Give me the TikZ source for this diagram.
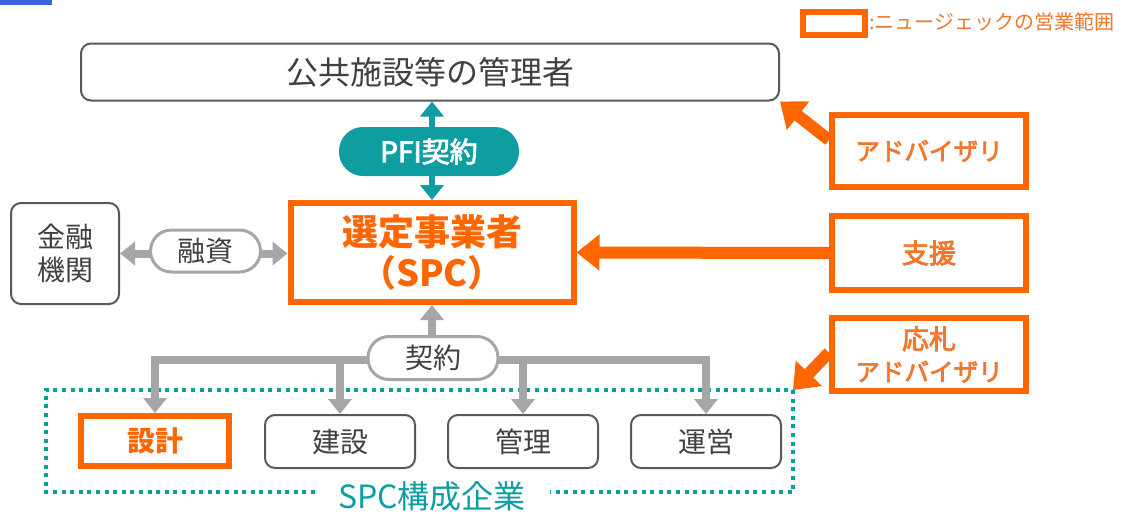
\documentclass[tikz,border=0pt]{standalone}
\usepackage{fontspec}
\setmainfont{Noto Sans CJK JP}
\newfontfamily\medfont{Noto Sans CJK JP}[FakeBold=3]
\usetikzlibrary{arrows.meta}
\definecolor{org}{HTML}{FF6600}
\definecolor{orgl}{HTML}{F0772B}
\definecolor{tealc}{HTML}{0E9DA0}
\definecolor{gborder}{HTML}{595959}
\definecolor{garrow}{HTML}{A6A6A6}
\definecolor{gtext}{HTML}{404040}
\definecolor{bluebar}{HTML}{3B64DC}
\begin{document}
\begin{tikzpicture}[x=0.5pt,y=-0.5pt,
  graybox/.style={draw=gborder, line width=1pt, rounded corners=5pt, fill=white, inner sep=0pt, text=gtext},
  orbox/.style={draw=org, line width=3pt, fill=white, inner sep=0pt, align=center},
  rbox/.style={orbox, minimum width=97pt, text=orgl, font=\medfont\fontsize{13.5}{16}\selectfont},
  pillg/.style={draw=garrow, line width=1.5pt, fill=white, rounded corners=10.5pt, inner sep=0pt, text=gtext, font=\fontsize{14}{16}\selectfont},
  garr/.style={draw=garrow, line width=4pt, -{Triangle[length=7.5pt,width=11.5pt]}},
  oarr/.style={draw=org, line width=6pt, -{Triangle[length=11.5pt,width=17.5pt]}},
  tarr/.style={draw=tealc, line width=3pt, {Triangle[length=7.5pt,width=11.5pt]}-{Triangle[length=7.5pt,width=11.5pt]}}
]
\useasboundingbox (0,0) rectangle (1125,514);
\fill[bluebar] (0,0) rectangle (52,5);
% legend
\node[draw=org, line width=3pt, minimum width=31pt, minimum height=11.5pt, inner sep=0pt] (leg) at (834,23.5) {};
\node[anchor=west, inner sep=0pt, text=orgl, font=\fontsize{10}{11}\selectfont] (legt) at (869,22) {:ニュージェックの営業範囲};
% main boxes
\node[graybox, minimum width=349pt, minimum height=28.5pt, font=\fontsize{16}{18}\selectfont] (top) at (430,72) {公共施設等の管理者};
\node[orbox, minimum width=141.5pt, minimum height=49.5pt, text=org, font=\fontsize{18}{21.5}\selectfont\bfseries] (spc) at (432,252.5) {\raisebox{-1pt}{選定事業者}\\（SPC）};
\node[graybox, align=center, minimum width=54pt, minimum height=50.5pt, font=\fontsize{14}{16.5}\selectfont] (kin) at (65,253.5) {金融\\機関};
% right boxes
\node[rbox, minimum height=36pt, font=\medfont\fontsize{12.3}{16}\selectfont] (adv) at (929,151) {アドバイザリ};
\node[rbox, minimum height=37pt] (shien) at (929,253) {支援};
\node[rbox, minimum height=36.5pt] (ous) at (929,354.5) {応札\\{\fontsize{12.3}{16}\selectfont アドバイザリ}};
% bottom boxes
\node[orbox, minimum width=74pt, minimum height=25pt, text=org, font=\fontsize{14}{16}\selectfont\bfseries] (sekkei) at (155,441) {\raisebox{-1pt}{設計}};
\node[graybox, minimum width=75pt, minimum height=26.5pt, font=\fontsize{14}{16}\selectfont] (kensetsu) at (340,441.5) {建設};
\node[graybox, minimum width=75pt, minimum height=26.5pt, font=\fontsize{14}{16}\selectfont] (kanri) at (523,441.5) {管理};
\node[graybox, minimum width=75pt, minimum height=26.5pt, font=\fontsize{14}{16}\selectfont] (unei) at (706,441.5) {運営};
% dotted group
\coordinate (gtl) at (46,390);
\coordinate (gbr) at (793,492);
\coordinate (dr) at (793,390);
\node[inner sep=0pt, text=tealc, font=\fontsize{16}{18}\selectfont] (grp) at (432,496) {SPC構成企業};
\draw[tealc, line width=2pt, dash pattern=on 2pt off 2.3pt] (315,492) -- (gtl |- gbr) -- (gtl) -- (dr) -- (gbr) -- (550,492);
% teal PFI
\draw[tarr] (spc.north |- top.south) -- (spc.north);
\node[fill=tealc, rounded corners=12pt, minimum width=90pt, minimum height=24.5pt, inner sep=0pt, text=white, font=\medfont\fontsize{14}{16}\selectfont] (pfi) at (429,151.5) {PFI契約};
% financing
\draw[draw=garrow, line width=4pt, {Triangle[length=7.5pt,width=11.5pt]}-{Triangle[length=7.5pt,width=11.5pt]}] (kin.east) -- (spc.west |- kin.east);
\node[pillg, minimum width=55pt, minimum height=21pt] (yushi) at (205.5,251) {融資};
% contract tree
\coordinate (kl) at (432,360);
\draw[garr] (kl) -- (spc.south);
\draw[draw=garrow, line width=4pt, line join=miter, {Triangle[length=7.5pt,width=11.5pt]}-{Triangle[length=7.5pt,width=11.5pt]}] (sekkei.north) -- (sekkei.north |- kl) -- (unei.north |- kl) -- (unei.north);
\draw[garr] (kensetsu.north |- kl) -- (kensetsu.north);
\draw[garr] (kanri.north |- kl) -- (kanri.north);
\node[pillg, minimum width=65pt, minimum height=21.5pt] (keiyaku) at (433,358) {契約};
% orange arrows
\draw[oarr] ([yshift=5.5pt]adv.west) -- (top.south east);
\draw[oarr] (shien.west) -- (spc.east);
\draw[oarr] ([yshift=1pt]ous.west) -- (dr);
\end{tikzpicture}
\end{document}
